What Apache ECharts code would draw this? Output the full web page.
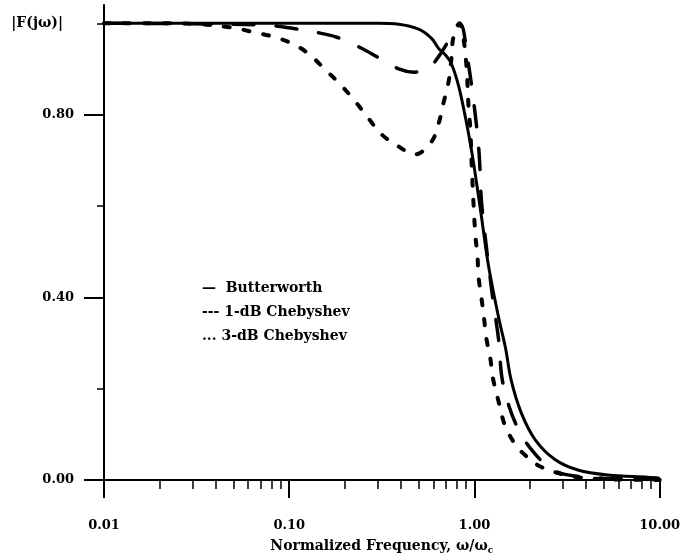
<!DOCTYPE html>
<html><head><meta charset="utf-8">
<script src="https://cdn.jsdelivr.net/npm/echarts@6/dist/echarts.min.js"></script>
<style>html,body{margin:0;padding:0;background:#fff}#c{width:683px;height:560px}</style>
</head><body><div id="c"></div>
<script>
// Normalized frequency (ω/ωc) and |F(jω)|
const bwW = [0.01, 0.05, 0.1, 0.2, 0.3, 0.39, 0.5, 0.59, 0.64, 0.7, 0.75, 0.82, 0.895, 0.964, 1.01, 1.09, 1.19, 1.35, 1.47, 1.58, 1.79, 2.13, 2.72, 3.62, 5.25, 8.6, 10];
const bwV = [1.0, 1.0, 1.0, 1.0, 1.0, 0.998, 0.987, 0.966, 0.945, 0.93, 0.912, 0.864, 0.793, 0.722, 0.67, 0.578, 0.47, 0.356, 0.29, 0.218, 0.147, 0.088, 0.045, 0.022, 0.011, 0.006, 0.004];

const c1W = [0.01, 0.05, 0.08, 0.1, 0.14, 0.179, 0.238, 0.297, 0.39, 0.47, 0.55, 0.64, 0.72, 0.78, 0.84, 0.92, 1.0, 1.06, 1.09, 1.16, 1.26, 1.35, 1.43, 1.73, 2.26, 2.83, 3.62, 5, 10];
const c1V = [1.0, 0.998, 0.995, 0.99, 0.98, 0.97, 0.948, 0.927, 0.9, 0.893, 0.897, 0.927, 0.96, 0.985, 0.998, 0.92, 0.815, 0.715, 0.614, 0.51, 0.394, 0.308, 0.209, 0.11, 0.045, 0.017, 0.008, 0.004, 0.001];

const c3W = [0.01, 0.02, 0.033, 0.05, 0.065, 0.083, 0.107, 0.13, 0.155, 0.187, 0.226, 0.27, 0.315, 0.38, 0.48, 0.585, 0.64, 0.68, 0.724, 0.75, 0.77, 0.83, 0.87, 0.906, 0.93, 0.95, 0.97, 1.01, 1.04, 1.05, 1.09, 1.13, 1.16, 1.22, 1.26, 1.35, 1.46, 1.66, 1.88, 2.21, 2.83, 3.62, 5, 10];
const c3V = [1.0, 1.0, 0.998, 0.99, 0.98, 0.97, 0.953, 0.93, 0.9, 0.868, 0.83, 0.79, 0.757, 0.733, 0.713, 0.74, 0.78, 0.825, 0.87, 0.92, 0.97, 1.0, 0.97, 0.905, 0.815, 0.77, 0.675, 0.54, 0.487, 0.448, 0.40, 0.35, 0.31, 0.265, 0.222, 0.172, 0.12, 0.078, 0.054, 0.032, 0.015, 0.006, 0.002, 0.0];

const seriesNames = ['Butterworth', '1-dB Chebyshev', '3-dB Chebyshev'];
const legendMarks = ['\u2014  ', '--- ', '... '];

const xMajorTicks = [0.01, 0.1, 1, 10];
const xMinorTicks = [0.02,0.03,0.04,0.05,0.06,0.07,0.08,0.09,0.2,0.3,0.4,0.5,0.6,0.7,0.8,0.9,2,3,4,5,6,7,8,9];
const yMajorTicks = [0, 0.4, 0.8];
const yLabelValues = [0, 0.4, 0.8, 1.0];
const yMinorTicks = [0.2, 0.6, 1.0];

const FONT = 'DejaVu Serif';
const zip = (a, b) => a.map((v, i) => [v, b[i]]);

const chart = echarts.init(document.getElementById('c'), null, {renderer: 'canvas'});
const axisBase = {
  type: 'log', logBase: 10, min: 0.01, max: 10, gridIndex: 0, position: 'bottom'
};
chart.setOption({
  animation: false,
  backgroundColor: '#fff',
  grid: {left: 104, right: 21, top: 5, bottom: 72, containLabel: false},
  legend: {
    orient: 'vertical', left: 192, top: 276, itemWidth: 0, itemHeight: 14, itemGap: 10,
    icon: 'none', selectedMode: false,
    data: seriesNames,
    formatter: name => legendMarks[seriesNames.indexOf(name)] + name,
    textStyle: {fontFamily: FONT, fontWeight: 'bold', fontSize: 14, color: '#000'}
  },
  xAxis: [
    Object.assign({}, axisBase, {
      name: 'Normalized Frequency, ω/ω{sub|c}',
      nameLocation: 'middle', nameGap: 58,
      nameTextStyle: {fontFamily: FONT, fontWeight: 'bold', fontSize: 14, color: '#000',
        rich: {sub: {fontFamily: FONT, fontWeight: 'bold', fontSize: 9, color: '#000', verticalAlign: 'bottom', padding: [8, 0, 0, 0]}}},
      axisLine: {show: true, onZero: false, lineStyle: {color: '#000', width: 2}},
      axisTick: {show: true, inside: false, length: 18, customValues: xMajorTicks, lineStyle: {color: '#000', width: 2}},
      axisLabel: {show: true, margin: 39, customValues: xMajorTicks, formatter: v => Number(v).toFixed(2),
        fontFamily: FONT, fontWeight: 'bold', fontSize: 13, color: '#000'},
      splitLine: {show: false}, minorTick: {show: false}
    }),
    Object.assign({}, axisBase, {
      axisLine: {show: false},
      axisTick: {show: true, inside: false, length: 9, customValues: xMinorTicks, lineStyle: {color: '#000', width: 1.5}},
      axisLabel: {show: false}, splitLine: {show: false}
    })
  ],
  yAxis: [
    {
      type: 'value', min: 0, max: 1.04, interval: 0.4, position: 'left', gridIndex: 0,
      axisLine: {show: true, onZero: false, lineStyle: {color: '#000', width: 2}},
      axisTick: {show: true, inside: false, length: 20, customValues: yMajorTicks, lineStyle: {color: '#000', width: 2}},
      axisLabel: {show: true, margin: 30, customValues: yLabelValues,
        formatter: v => (Math.abs(v - 1) < 1e-9 ? '{n||F(jω)|}' : Number(v).toFixed(2)),
        fontFamily: FONT, fontWeight: 'bold', fontSize: 13, color: '#000',
        rich: {n: {fontFamily: FONT, fontWeight: 'bold', fontSize: 14, color: '#000', padding: [0, 11, 0, 0]}}},
      splitLine: {show: false}
    },
    {
      type: 'value', min: 0, max: 1.04, interval: 0.4, position: 'left', gridIndex: 0,
      axisLine: {show: false},
      axisTick: {show: true, inside: false, length: 7, customValues: yMinorTicks, lineStyle: {color: '#000', width: 1.5}},
      axisLabel: {show: false}, splitLine: {show: false}
    }
  ],
  series: [
    {name: seriesNames[0], type: 'line', xAxisIndex: 0, yAxisIndex: 0, data: zip(bwW, bwV),
     symbol: 'none', smooth: 0.35, lineStyle: {color: '#000', width: 3, type: 'solid'}, itemStyle: {color: '#000'}},
    {name: seriesNames[1], type: 'line', xAxisIndex: 0, yAxisIndex: 0, data: zip(c1W, c1V),
     symbol: 'none', smooth: 0.35, lineStyle: {color: '#000', width: 3.5, type: [21, 22], cap: 'round'}, itemStyle: {color: '#000'}},
    {name: seriesNames[2], type: 'line', xAxisIndex: 0, yAxisIndex: 0, data: zip(c3W, c3V),
     symbol: 'none', smooth: 0.35, lineStyle: {color: '#000', width: 4, type: [6, 14], cap: 'round'}, itemStyle: {color: '#000'}}
  ]
});
</script></body></html>
